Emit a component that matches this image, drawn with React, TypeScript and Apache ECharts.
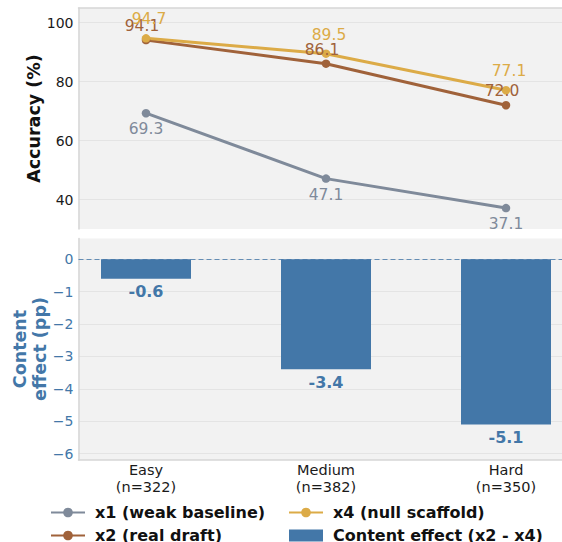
import React, { useEffect, useRef } from "react";
import * as echarts from "echarts";

const categories = ["Easy", "Medium", "Hard"];
const sampleSizes = [322, 382, 350];
const x1Values = [69.3, 47.1, 37.1];
const x2Values = [94.1, 86.1, 72.0];
const x4Values = [94.7, 89.5, 77.1];
const effectValues = [-0.6, -3.4, -5.1];
const accuracyTicks = [40, 60, 80, 100];
const effectTicks = [0, -1, -2, -3, -4, -5, -6];
const seriesNames = ["x1 (weak baseline)", "x2 (real draft)", "x4 (null scaffold)", "Content effect (x2 - x4)"];
const axisTitles = ["Accuracy (%)", "Content\neffect (pp)"];

const FONT = "DejaVu Sans";
const C_GRAY = "#7f8a9a";
const C_BROWN = "#a0623a";
const C_GOLD = "#dcab47";
const C_BLUE = "#4377a8";
const SPINE = "#d6d6d6";
const GRIDC = "#e4e4e4";

const idx = categories.map((_, i) => i);

export default function App() {
  const ref = useRef<HTMLDivElement>(null);
  useEffect(() => {
    if (!ref.current) return;
    const chart = echarts.init(ref.current, undefined, { renderer: "svg" });
    const lineSeries = (name: string, values: number[], color: string, offset: number[]) => ({
      name,
      type: "line",
      xAxisIndex: 0,
      yAxisIndex: 0,
      data: idx.map((i) => [i, values[i]]),
      symbol: "circle",
      symbolSize: 8.5,
      lineStyle: { color, width: 3 },
      itemStyle: { color },
      label: {
        show: true,
        position: "inside",
        offset,
        color,
        fontSize: 15.5,
        fontFamily: FONT,
        formatter: (p: any) => Number(p.value[1]).toFixed(1),
      },
    });
    const legendBase = {
      type: "plain",
      orient: "vertical",
      top: 503.5,
      height: 80,
      padding: 0,
      itemWidth: 34,
      itemHeight: 12,
      itemGap: 5,
      textStyle: { fontSize: 16, lineHeight: 18, fontWeight: "bold", color: "#111", fontFamily: FONT, padding: [0, 0, 0, 5] },
    };
    const gridBase = { show: true, backgroundColor: "#f2f2f2", borderWidth: 0, outerBoundsMode: "none", containLabel: false };
    const option: any = {
      animation: false,
      textStyle: { fontFamily: FONT },
      grid: [
        { ...gridBase, left: 78.5, top: 8, width: 495, height: 221 },
        { ...gridBase, left: 78.5, top: 238.5, width: 495, height: 221.5 },
      ],
      graphic: [
        {
          type: "text",
          x: 34,
          y: 118.5,
          rotation: Math.PI / 2,
          style: {
            text: axisTitles[0],
            fontSize: 17.5,
            fontWeight: "bold",
            fontFamily: FONT,
            fill: "#111",
            align: "center",
            verticalAlign: "middle",
          },
        },
        {
          type: "text",
          x: 30,
          y: 349,
          rotation: Math.PI / 2,
          style: {
            text: axisTitles[1],
            fontSize: 17.5,
            lineHeight: 19.5,
            fontWeight: "bold",
            fontFamily: FONT,
            fill: C_BLUE,
            align: "center",
            verticalAlign: "middle",
          },
        },
      ],
      xAxis: [
        {
          type: "value",
          gridIndex: 0,
          position: "top",
          min: -0.375,
          max: 2.375,
          axisLine: { show: true, onZero: false, lineStyle: { color: SPINE, width: 1.5 } },
          axisTick: { show: false },
          axisLabel: { show: false },
          splitLine: { show: false },
        },
        {
          type: "value",
          gridIndex: 1,
          position: "bottom",
          min: -0.375,
          max: 2.375,
          axisLine: { show: true, onZero: false, lineStyle: { color: SPINE, width: 1.5 } },
          axisTick: { show: false, customValues: idx },
          axisLabel: {
            customValues: idx,
            margin: 2,
            fontSize: 14.5,
            lineHeight: 16.5,
            color: "#1a1a1a",
            fontFamily: FONT,
            formatter: (v: number) => `${categories[v]}\n(n=${sampleSizes[v]})`,
          },
          splitLine: { show: false },
        },
      ],
      yAxis: [
        {
          type: "value",
          gridIndex: 0,
          min: 30,
          max: 105,
          axisLine: { show: true, onZero: false, lineStyle: { color: SPINE, width: 1.5 } },
          axisTick: { show: false, customValues: accuracyTicks },
          axisLabel: { customValues: accuracyTicks, fontSize: 14, color: "#1a1a1a", margin: 5, fontFamily: FONT },
          splitLine: { show: true, lineStyle: { color: GRIDC, width: 1 } },
        },
        {
          type: "value",
          gridIndex: 1,
          min: -6.2,
          max: 0.64,
          axisLine: { show: true, onZero: false, lineStyle: { color: SPINE, width: 1.5 } },
          axisTick: { show: false, customValues: effectTicks },
          axisLabel: {
            customValues: effectTicks,
            fontSize: 14,
            color: C_BLUE,
            margin: 5,
            fontFamily: FONT,
            formatter: (v: number) => (v < 0 ? "\u2212" + Math.abs(v) : String(v)),
          },
          splitLine: { show: true, lineStyle: { color: GRIDC, width: 1 } },
        },
      ],
      legend: [
        { ...legendBase, left: 50, data: [seriesNames[0], seriesNames[1]] },
        { ...legendBase, left: 288, data: [seriesNames[2], { name: seriesNames[3], icon: "rect" }] },
      ],
      series: [
        lineSeries(seriesNames[0], x1Values, C_GRAY, [0, 16]),
        lineSeries(seriesNames[1], x2Values, C_BROWN, [-4, -14]),
        lineSeries(seriesNames[2], x4Values, C_GOLD, [3, -19]),
        {
          name: seriesNames[3],
          type: "bar",
          xAxisIndex: 1,
          yAxisIndex: 1,
          data: idx.map((i) => [i, effectValues[i]]),
          barWidth: 90,
          itemStyle: { color: C_BLUE },
          label: {
            show: true,
            position: "bottom",
            distance: 5,
            color: C_BLUE,
            fontSize: 16,
            fontWeight: "bold",
            fontFamily: FONT,
            formatter: (p: any) => Number(p.value[1]).toFixed(1),
          },
          markLine: {
            silent: true,
            symbol: "none",
            label: { show: false },
            emphasis: { disabled: true },
            lineStyle: { color: C_BLUE, type: [5, 3], width: 1, opacity: 0.8 },
            data: [{ yAxis: 0 }],
          },
        },
      ],
    };
    chart.setOption(option);
    return () => chart.dispose();
  }, []);
  return <div ref={ref} style={{ position: "absolute", left: 0, top: 0, width: 562, height: 542 }} />;
}
